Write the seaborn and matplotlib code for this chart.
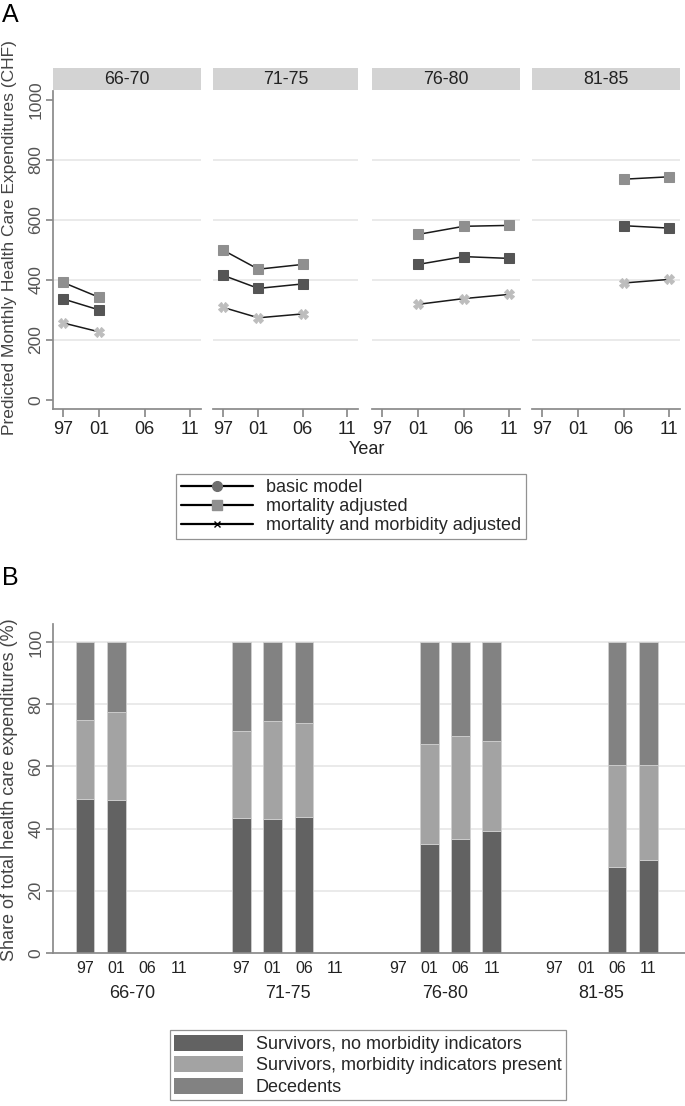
import matplotlib
matplotlib.use("Agg")
import matplotlib.pyplot as plt
from matplotlib.lines import Line2D
from matplotlib.patches import Patch
import seaborn as sns
import pandas as pd

W, H = 685, 1106

# Panel A data: predicted monthly expenditures by age group and year
age_groups = ["66-70", "71-75", "76-80", "81-85"]
years_by_group = [[1997, 2001], [1997, 2001, 2006], [2001, 2006, 2011], [2006, 2011]]
mortality_adj = [[392, 342], [500, 436, 452], [552, 579, 582], [736, 744]]
basic_model = [[337, 300], [416, 372, 387], [452, 478, 472], [581, 573]]
mort_morb_adj = [[257, 227], [309, 274, 287], [319, 338, 352], [390, 402]]
year_ticks = [1997, 2001, 2006, 2011]
year_labels = ["97", "01", "06", "11"]

# Panel B data: shares (%) of total expenditures
share_years = [["97", "01"], ["97", "01", "06"], ["01", "06", "11"], ["06", "11"]]
surv_no_morb = [[49.5, 49.2], [43.3, 43.2, 43.6], [35.0, 36.8, 39.2], [27.7, 29.9]]
surv_morb = [[25.3, 28.4], [28.1, 31.4, 30.4], [32.2, 32.9, 29.1], [32.8, 30.6]]
decedents = [[25.2, 22.4], [28.6, 25.4, 26.0], [32.8, 30.3, 31.7], [39.5, 39.5]]

sns.set_theme(style="white")
plt.rcParams["font.family"] = ["Liberation Sans", "DejaVu Sans"]

fig = plt.figure(figsize=(W / 100, H / 100), dpi=100)


def px_axes(x0, y0, x1, y1):
    return fig.add_axes([x0 / W, 1 - y1 / H, (x1 - x0) / W, (y1 - y0) / H])


grid_col = "#e6e6e6"
spine_col = "#8a8a8a"
text_col = "#222222"

# ---------- Panel A ----------
panel_x = [(53, 201), (213, 358), (372, 520), (532, 680)]
series = [
    ("mortality adjusted", mortality_adj, "s", "#8f8f8f", 7.5),
    ("basic model", basic_model, "s", "#555555", 7.5),
    ("mortality and morbidity adjusted", mort_morb_adj, "X", "#bdbdbd", 7),
]
for i, (x0, x1) in enumerate(panel_x):
    ax = px_axes(x0, 91, x1, 409)
    for name, vals, mk, col, ms in series:
        df = pd.DataFrame({"year": years_by_group[i], "value": vals[i]})
        sns.lineplot(data=df, x="year", y="value", ax=ax, color="#1a1a1a", lw=1.1,
                     marker=mk, markersize=ms, markerfacecolor=col,
                     markeredgecolor=col, legend=False)
    ax.set_xlim(1995.9, 2012.2)
    ax.set_ylim(-30, 1030)
    ax.set_yticks([0, 200, 400, 600, 800, 1000])
    for v in [200, 400, 600, 800]:
        ax.axhline(v, color=grid_col, lw=1.2, zorder=0)
    ax.set_xticks(year_ticks)
    ax.set_xticklabels(year_labels, fontsize=13, color=text_col)
    ax.set_xlabel("")
    ax.set_ylabel("")
    ax.tick_params(axis="x", length=6, color=spine_col, pad=3, direction="out",
                   bottom=True)
    for s in ["top", "right"]:
        ax.spines[s].set_visible(False)
    ax.spines["bottom"].set_color(spine_col)
    if i == 0:
        ax.spines["left"].set_color(spine_col)
        ax.tick_params(axis="y", length=5, color=spine_col, left=True, pad=2)
        ax.set_yticklabels([str(v) for v in [0, 200, 400, 600, 800, 1000]],
                           rotation=90, va="center", fontsize=12.5, color="#555555")
    else:
        ax.spines["left"].set_visible(False)
        ax.set_yticks([])
    # strip
    sax = px_axes(x0, 68, x1, 90)
    sax.set_facecolor("#d3d3d3")
    sax.set_xticks([])
    sax.set_yticks([])
    for s in sax.spines.values():
        s.set_visible(False)
    sax.text(0.5, 0.5, age_groups[i], ha="center", va="center", fontsize=12.8,
             color=text_col, transform=sax.transAxes)

fig.text(2 / W, 1 - 15 / H, "A", fontsize=18, ha="left", va="center", color="black")
fig.text(10 / W, 1 - 238 / H, "Predicted Monthly Health Care Expenditures (CHF)",
         rotation=90, ha="center", va="center", fontsize=12.5, color="#444444")
fig.text(367 / W, 1 - 450 / H, "Year", ha="center", va="center", fontsize=13,
         color=text_col)

handles_a = [
    Line2D([], [], color="black", lw=1.6, marker="o", markersize=7,
           markerfacecolor="#6e6e6e", markeredgecolor="#6e6e6e"),
    Line2D([], [], color="black", lw=1.6, marker="s", markersize=7,
           markerfacecolor="#909090", markeredgecolor="#909090"),
    Line2D([], [], color="black", lw=1.6, marker="x", markersize=4,
           markeredgecolor="black"),
]
leg_a = fig.legend(handles_a, ["basic model", "mortality adjusted",
                               "mortality and morbidity adjusted"],
                   loc="upper center", bbox_to_anchor=(351 / W, 1 - 465 / H),
                   frameon=True, fancybox=False, edgecolor="#777777",
                   fontsize=13, handlelength=4.0, labelspacing=0.1,
                   borderpad=0.3, handletextpad=0.7)
leg_a.get_frame().set_linewidth(0.9)

# ---------- Panel B ----------
bx = px_axes(53, 624, 685, 953)
slot = {"97": 0, "01": 1, "06": 2, "11": 3}
cols = ["#626262", "#a3a3a3", "#828282"]
labels_b = ["Survivors, no morbidity indicators",
            "Survivors, morbidity indicators present", "Decedents"]
for g in range(len(age_groups)):
    pos = [5 * g + slot[y] for y in share_years[g]]
    bottom = [0] * len(pos)
    for k, part in enumerate([surv_no_morb, surv_morb, decedents]):
        bx.bar(pos, part[g], bottom=bottom, width=0.6, color=cols[k],
               edgecolor="#d0d0d0", linewidth=0.6, zorder=2)
        bottom = [b + v for b, v in zip(bottom, part[g])]
bx.set_xlim(-1.02, 19.17)
bx.set_ylim(0, 105.8)
bx.set_yticks([0, 20, 40, 60, 80, 100])
bx.set_yticklabels(["0", "20", "40", "60", "80", "100"], rotation=90,
                   va="center", fontsize=12.5, color="#555555")
for v in [20, 40, 60, 80, 100]:
    bx.axhline(v, color=grid_col, lw=1.2, zorder=0)
tick_pos = [5 * g + i for g in range(4) for i in range(4)]
bx.set_xticks(tick_pos)
bx.set_xticklabels(year_labels * 4, fontsize=11.5, color=text_col)
bx.tick_params(axis="x", length=0, pad=6)
bx.tick_params(axis="y", length=5, color=spine_col, left=True, pad=2)
for s in ["top", "right"]:
    bx.spines[s].set_visible(False)
bx.spines["left"].set_color(spine_col)
bx.spines["bottom"].set_color(spine_col)
trans = bx.get_xaxis_transform()
for g, name in enumerate(age_groups):
    bx.text(5 * g + 1.5, -0.122, name, transform=trans, ha="center", va="center",
            fontsize=13, color=text_col)

fig.text(2 / W, 1 - 578 / H, "B", fontsize=18, ha="left", va="center", color="black")
fig.text(10 / W, 1 - 790 / H, "Share of total health care expenditures (%)",
         rotation=90, ha="center", va="center", fontsize=13, color="#444444")

handles_b = [Patch(facecolor=c, edgecolor="none") for c in cols]
leg_b = fig.legend(handles_b, labels_b, loc="upper center",
                   bbox_to_anchor=(368 / W, 1 - 1021 / H), frameon=True,
                   fancybox=False, edgecolor="#777777", fontsize=13,
                   handlelength=3.8, handleheight=1.0, labelspacing=0.18,
                   borderpad=0.25, handletextpad=0.7)
leg_b.get_frame().set_linewidth(0.9)

fig.savefig("out.png", dpi=100, facecolor="white")
